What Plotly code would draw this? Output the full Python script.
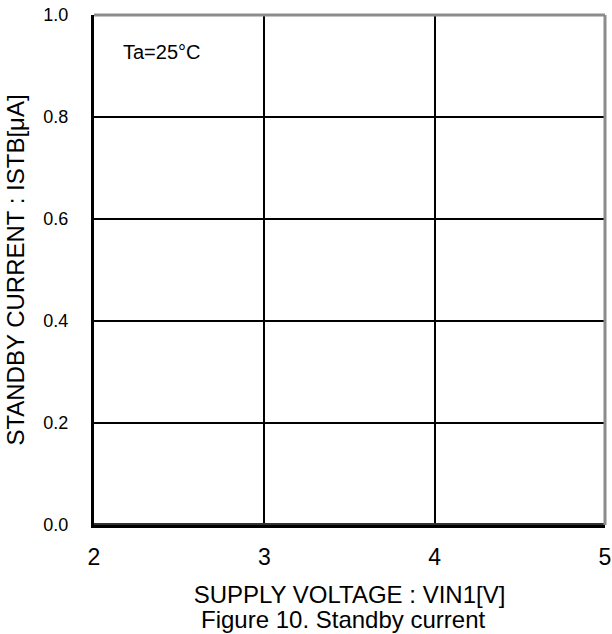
import plotly.graph_objects as go

# Data (current stays ~0 over the whole range)
vin = [2.0, 2.5, 2.7, 3.0, 3.3, 3.5, 4.0, 4.5, 4.6, 5.0]
istb = [0.002, 0.002, 0.001, 0.001, 0.001, 0.001, 0.001, 0.001, 0.002, 0.002]

x_ticks = [2, 3, 4, 5]
y_ticks = [0.0, 0.2, 0.4, 0.6, 0.8, 1.0]
y_tick_text = ["0.0", "0.2", "0.4", "0.6", "0.8", "1.0"]

font = "Liberation Sans, Arial, sans-serif"
narrow = "Liberation Sans Narrow, Arial Narrow, Liberation Sans, sans-serif"

fig = go.Figure()
fig.add_trace(go.Scatter(x=vin, y=istb, mode="lines",
                         line=dict(color="#333333", width=2), showlegend=False,
                         cliponaxis=False))

fig.update_layout(
    width=612, height=634,
    margin=dict(l=94, r=7, t=15, b=109, autoexpand=False),
    paper_bgcolor="white", plot_bgcolor="white",
    font=dict(family=font, size=18, color="black"),
    xaxis=dict(range=[2, 5], tickvals=x_ticks, ticks="", showgrid=True,
               gridcolor="black", gridwidth=2, zeroline=False, automargin=False,
               showline=True, linecolor="black", linewidth=3,
               tickfont=dict(size=23, family=narrow), ticklabelstandoff=9,
               title=dict(text="SUPPLY VOLTAGE : VIN1[V]", standoff=18,
                          font=dict(size=24))),
    yaxis=dict(range=[0, 1], tickvals=y_ticks, ticktext=y_tick_text, ticks="",
               showgrid=True, gridcolor="black", gridwidth=2, zeroline=False,
               automargin=False,
               showline=True, linecolor="black", linewidth=3,
               tickfont=dict(size=18), ticklabelstandoff=19,
               title=dict(text="STANDBY CURRENT : ISTB[μA]", standoff=12,
                          font=dict(size=24))),
    shapes=[
        dict(type="line", xref="paper", yref="paper", x0=0, x1=1, y0=1, y1=1,
             line=dict(color="#8c8c8c", width=3)),
        dict(type="line", xref="paper", yref="paper", x0=1, x1=1, y0=0, y1=1,
             line=dict(color="#8c8c8c", width=3)),
    ],
    annotations=[
        dict(text="Ta=25°C", xref="paper", yref="paper", x=0.053, y=0.927,
             xanchor="left", yanchor="middle", showarrow=False,
             font=dict(size=20)),
        dict(text="Figure 10. Standby current", xref="paper", yref="paper",
             x=0.488, y=-0.185, xanchor="center", yanchor="middle",
             showarrow=False, font=dict(size=24)),
    ],
)

fig.write_html("out.html", config={"displayModeBar": False},
               post_script="document.body.style.margin='0';")
